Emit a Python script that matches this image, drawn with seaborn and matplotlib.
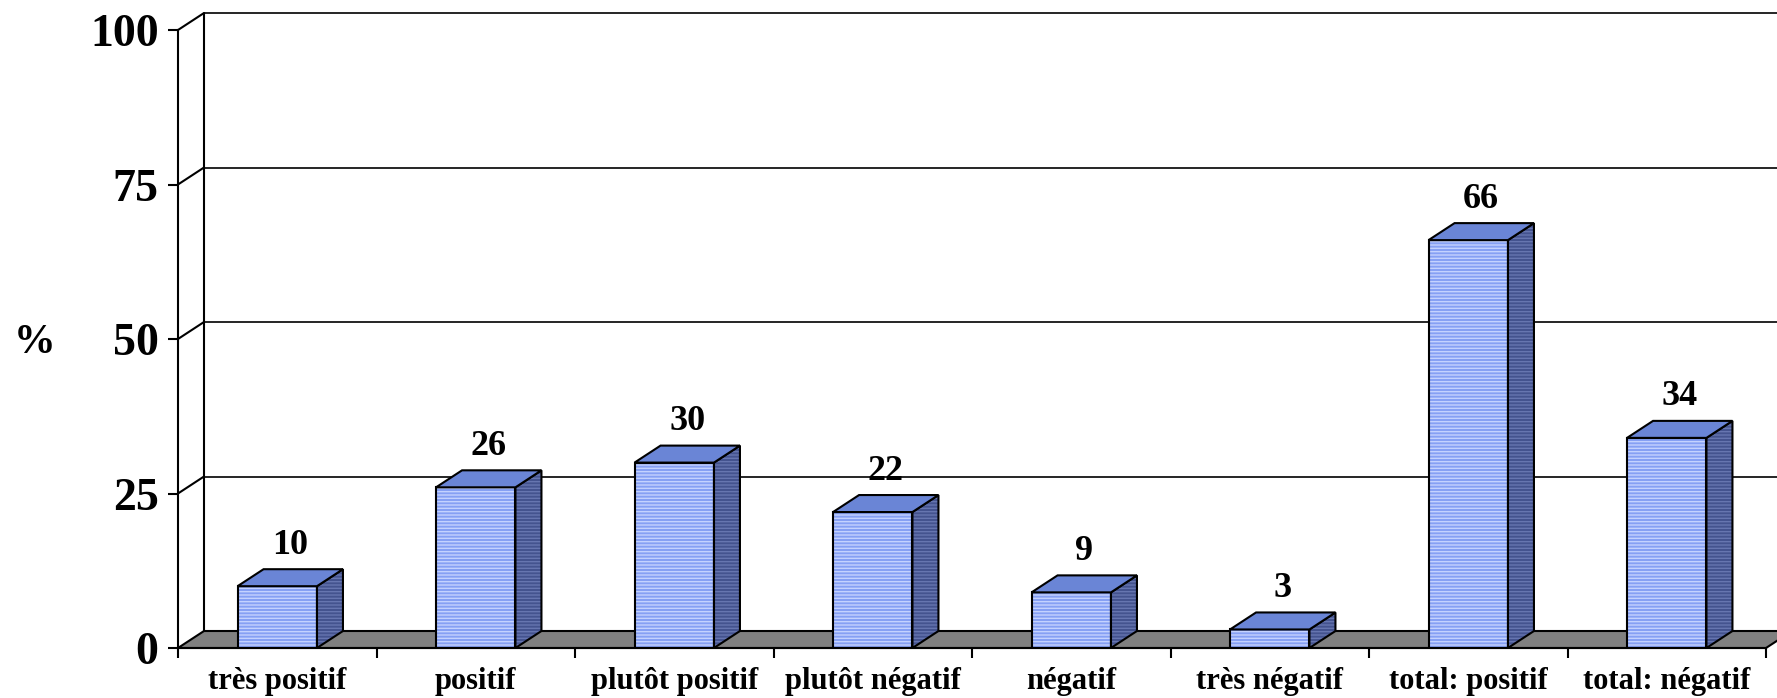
import numpy as np
import pandas as pd
import seaborn as sns
import matplotlib.pyplot as plt
from matplotlib.patches import Polygon, Rectangle

categories = ['très positif', 'positif', 'plutôt positif', 'plutôt négatif',
              'négatif', 'très négatif', 'total: positif', 'total: négatif']
values = [10, 26, 30, 22, 9, 3, 66, 34]
yticks = [0, 25, 50, 75, 100]

sns.set_style('white')
plt.rcParams['font.family'] = ['Liberation Serif', 'DejaVu Serif']
plt.rcParams['font.weight'] = 'bold'
plt.rcParams['hatch.linewidth'] = 1.0
for k in ['text.color', 'axes.labelcolor', 'xtick.color', 'ytick.color',
          'axes.edgecolor']:
    plt.rcParams[k] = 'black'

df = pd.DataFrame({'cat': categories, 'val': values})

fig = plt.figure(figsize=(17.77, 6.98), dpi=100)
ax = fig.add_axes([178/1777, 50/698, 1599/1777, 635/698])

# depth of the fake 3d box, in data units
dx = 26/198.5
dy = 17/6.18

front = '#86A0F4'
stripe = '#C4D2FF'
side = '#44538F'
side_stripe = '#6675B0'
top = '#6A85D6'

sns.barplot(data=df, x='cat', y='val', color=front, saturation=1, width=0.4,
            edgecolor=stripe, linewidth=0, hatch='-----', ax=ax, zorder=3)

xmax = -0.5 + 1599/198.5
ymax = 635/6.18

# floor
ax.add_patch(Polygon([(-0.5, 0), (7.5, 0), (7.5+dx, dy), (-0.5+dx, dy)],
                     closed=True, facecolor='#808080', edgecolor='black',
                     lw=1.5, zorder=1, clip_on=False))
# back wall grid + left wall diagonals
for v in yticks[1:]:
    ax.plot([-0.5+dx, xmax], [v+dy, v+dy], color='black', lw=1.2, zorder=0.5,
            clip_on=False)
    ax.plot([-0.5, -0.5+dx], [v, v+dy], color='black', lw=1.5, zorder=0.5,
            clip_on=False)
ax.plot([-0.5+dx, -0.5+dx], [dy, 100+dy], color='black', lw=1.5, zorder=0.5)

for p, v in zip(list(ax.patches), values):
    if not isinstance(p, Rectangle) or p.get_hatch() is None:
        continue
    x, w, h = p.get_x(), p.get_width(), p.get_height()
    ax.add_patch(Rectangle((x, 0), w, h, fill=False, edgecolor='black',
                           lw=1.5, zorder=4))
    ax.add_patch(Polygon([(x+w, 0), (x+w+dx, dy), (x+w+dx, h+dy), (x+w, h)],
                         closed=True, facecolor=side, edgecolor=side_stripe,
                         lw=0, hatch='-----', zorder=3))
    ax.add_patch(Polygon([(x+w, 0), (x+w+dx, dy), (x+w+dx, h+dy), (x+w, h)],
                         closed=True, fill=False, edgecolor='black', lw=1.5,
                         zorder=4))
    ax.add_patch(Polygon([(x, h), (x+w, h), (x+w+dx, h+dy), (x+dx, h+dy)],
                         closed=True, facecolor=top, edgecolor='black',
                         lw=1.5, zorder=4))
    ax.text(x + w/2 + dx/2, h + dy + 1.2, str(v), ha='center', va='bottom',
            fontsize=26, fontweight='bold')

ax.set_xlim(-0.5, xmax)
ax.set_ylim(0, ymax)

for s in ['top', 'right']:
    ax.spines[s].set_visible(False)
ax.spines['left'].set_bounds(0, 100)
ax.spines['bottom'].set_bounds(-0.5, 7.5)
ax.spines['left'].set_linewidth(1.5)
ax.spines['bottom'].set_linewidth(1.5)
ax.spines['left'].set_zorder(5)
ax.spines['bottom'].set_zorder(5)

ax.set_yticks(yticks)
ax.set_yticklabels([str(t) for t in yticks], fontsize=33, fontweight='bold')
ax.tick_params(axis='y', direction='out', length=7, width=1.5, pad=7, left=True)

ax.set_xticks(np.arange(-0.5, 8, 1))
ax.set_xticklabels([])
ax.set_xticks(range(len(categories)), minor=True)
ax.set_xticklabels(categories, minor=True, fontsize=22, fontweight='bold')
ax.tick_params(axis='x', which='major', direction='out', length=7, width=1.5,
               bottom=True)
ax.tick_params(axis='x', which='minor', length=0, pad=14)

ax.set_xlabel('')
ax.set_ylabel('%', rotation=0, fontsize=30, fontweight='bold', va='center')
ax.yaxis.set_label_coords(-0.0894, 0.48)

fig.savefig('out.png', dpi=100)
